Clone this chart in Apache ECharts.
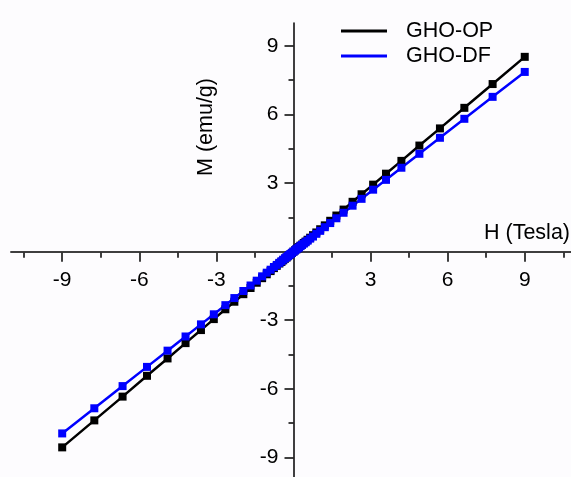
<!DOCTYPE html>
<html>
<head>
<meta charset="utf-8">
<script src="https://cdn.jsdelivr.net/npm/echarts@6/dist/echarts.min.js"></script>
<style>html,body{margin:0;padding:0;background:#fdfcfe;}#c{width:571px;height:477px;}</style>
</head>
<body>
<div id="c"></div>
<script>
var H = [-9, -7.75, -6.65, -5.7, -4.9, -4.2, -3.6, -3.1, -2.65, -2.3, -1.95, -1.67, -1.43, -1.22, -1.04, -0.89, -0.76, -0.65, -0.55, -0.47, -0.4, -0.33, -0.27, -0.21, -0.16, -0.11, -0.06, 0,
         0.06, 0.11, 0.16, 0.21, 0.27, 0.33, 0.4, 0.47, 0.55, 0.65, 0.76, 0.89, 1.04, 1.22, 1.43, 1.67, 1.95, 2.3, 2.65, 3.1, 3.6, 4.2, 4.9, 5.7, 6.65, 7.75, 9];
var M_OP = [-8.56, -7.38, -6.34, -5.43, -4.67, -4.0, -3.43, -2.95, -2.52, -2.19, -1.86, -1.59, -1.36, -1.16, -0.99, -0.85, -0.72, -0.62, -0.52, -0.45, -0.38, -0.31, -0.26, -0.2, -0.15, -0.1, -0.06, 0,
            0.06, 0.1, 0.15, 0.2, 0.26, 0.31, 0.38, 0.44, 0.52, 0.61, 0.72, 0.84, 0.98, 1.15, 1.35, 1.58, 1.84, 2.18, 2.51, 2.93, 3.41, 3.97, 4.64, 5.39, 6.29, 7.33, 8.52];
var M_DF = [-7.95, -6.85, -5.88, -5.04, -4.33, -3.71, -3.18, -2.74, -2.34, -2.03, -1.72, -1.48, -1.27, -1.08, -0.92, -0.79, -0.67, -0.58, -0.49, -0.42, -0.35, -0.29, -0.24, -0.19, -0.14, -0.1, -0.05, 0,
            0.05, 0.1, 0.14, 0.18, 0.24, 0.29, 0.35, 0.41, 0.48, 0.57, 0.66, 0.78, 0.91, 1.07, 1.25, 1.46, 1.70, 2.01, 2.31, 2.71, 3.14, 3.67, 4.28, 4.98, 5.81, 6.77, 7.86];
var seriesNames = ['GHO-OP', 'GHO-DF'];
var xAxisName = 'H (Tesla)';
var yAxisName = 'M (emu/g)';
var majorTicks = [-9, -6, -3, 3, 6, 9];
var minorTicksX = [-10.5, -7.5, -4.5, -1.5, 1.5, 4.5, 7.5, 10.5];
var minorTicksY = [-7.5, -4.5, -1.5, 1.5, 4.5, 7.5];

function pairs(xs, ys) { return xs.map(function (x, i) { return [x, ys[i]]; }); }

var FONT = "'Liberation Sans', Arial, sans-serif";
var FS = 21;
var black = '#000';
var lineStyle = { color: black, width: 1.5 };
var txt = { fontSize: FS, color: black, fontFamily: FONT };
var X_RANGE = { min: -11, max: 10.8 };
var Y_RANGE = { min: -10, max: 10 };

function g(o) { return Object.assign({ outerBoundsMode: 'none', containLabel: false }, o); }
// grid edges: plot area x 10.8..571, y 23..480.3 ; zero lines at x=293.5, y=252.65
var gMain = { left: 10.8, right: 0, top: 23, bottom: -3.3 };
var gXTicks = { left: 10.8, right: 0, top: 0, bottom: 224.35 };
var gYTicks = { left: 293.5, right: 0, top: 23, bottom: -3.3 };
var gYName = { left: 293.5, right: 0, top: 23, bottom: 246 };

function hiddenAxis(grid, rng) {
  return Object.assign({ type: 'value', gridIndex: grid, show: false }, rng);
}

var chart = echarts.init(document.getElementById('c'));
chart.setOption({
  backgroundColor: '#fdfcfe',
  animation: false,
  textStyle: { fontFamily: FONT },
  grid: [g(gMain), g(gXTicks), g(gXTicks), g(gYTicks), g(gYTicks), g(gYName)],
  legend: {
    orient: 'vertical', left: 336, top: 15, itemWidth: 46, itemHeight: 3, itemGap: 3,
    icon: 'rect',
    textStyle: { fontSize: 21.5, color: black, fontFamily: FONT, padding: [0, 0, 0, 14] },
    data: seriesNames
  },
  xAxis: [
    Object.assign({
      type: 'value', gridIndex: 0,
      axisLine: { onZero: true, lineStyle: lineStyle },
      axisTick: { show: false }, axisLabel: { show: false }, splitLine: { show: false },
      name: xAxisName, nameLocation: 'end', nameGap: -1,
      nameTextStyle: Object.assign({}, txt, { fontSize: 21.5, align: 'right', verticalAlign: 'bottom', padding: [0, 0, 8, 0] })
    }, X_RANGE),
    Object.assign({
      type: 'value', gridIndex: 1, position: 'bottom',
      axisLine: { show: false, onZero: false },
      axisTick: { customValues: majorTicks, length: 9, lineStyle: lineStyle },
      axisLabel: Object.assign({ customValues: majorTicks, margin: 17 }, txt),
      splitLine: { show: false }
    }, X_RANGE),
    Object.assign({
      type: 'value', gridIndex: 2, position: 'bottom',
      axisLine: { show: false, onZero: false },
      axisTick: { customValues: minorTicksX, length: 5, lineStyle: lineStyle },
      axisLabel: { show: false }, splitLine: { show: false }
    }, X_RANGE),
    hiddenAxis(3, X_RANGE), hiddenAxis(4, X_RANGE), hiddenAxis(5, X_RANGE)
  ],
  yAxis: [
    Object.assign({
      type: 'value', gridIndex: 0,
      axisLine: { onZero: true, lineStyle: lineStyle },
      axisTick: { show: false }, axisLabel: { show: false }, splitLine: { show: false }
    }, Y_RANGE),
    hiddenAxis(1, { min: 0, max: 1 }), hiddenAxis(2, { min: 0, max: 1 }),
    Object.assign({
      type: 'value', gridIndex: 3, position: 'left',
      axisLine: { show: false, onZero: false },
      axisTick: { customValues: majorTicks, length: 9, lineStyle: lineStyle },
      axisLabel: Object.assign({ customValues: majorTicks, margin: 15 }, txt),
      splitLine: { show: false }
    }, Y_RANGE),
    Object.assign({
      type: 'value', gridIndex: 4, position: 'left',
      axisLine: { show: false, onZero: false },
      axisTick: { customValues: minorTicksY, length: 5, lineStyle: lineStyle },
      axisLabel: { show: false }, splitLine: { show: false }
    }, Y_RANGE),
    {
      type: 'value', gridIndex: 5, min: 0, max: 1, position: 'left',
      axisLine: { show: false, onZero: false }, axisTick: { show: false }, axisLabel: { show: false }, splitLine: { show: false },
      name: yAxisName, nameLocation: 'middle', nameRotate: 90, nameGap: 76,
      nameTextStyle: Object.assign({}, txt, { fontSize: 21.5 })
    }
  ],
  series: [{
    name: seriesNames[0], type: 'line', xAxisIndex: 0, yAxisIndex: 0,
    data: pairs(H, M_OP), symbol: 'rect', symbolSize: 8, showAllSymbol: true,
    itemStyle: { color: black }, lineStyle: { color: black, width: 2.5 }
  }, {
    name: seriesNames[1], type: 'line', xAxisIndex: 0, yAxisIndex: 0,
    data: pairs(H, M_DF), symbol: 'rect', symbolSize: 8, showAllSymbol: true,
    itemStyle: { color: '#0000ff' }, lineStyle: { color: '#0000ff', width: 2.5 }
  }]
});
</script>
</body>
</html>
